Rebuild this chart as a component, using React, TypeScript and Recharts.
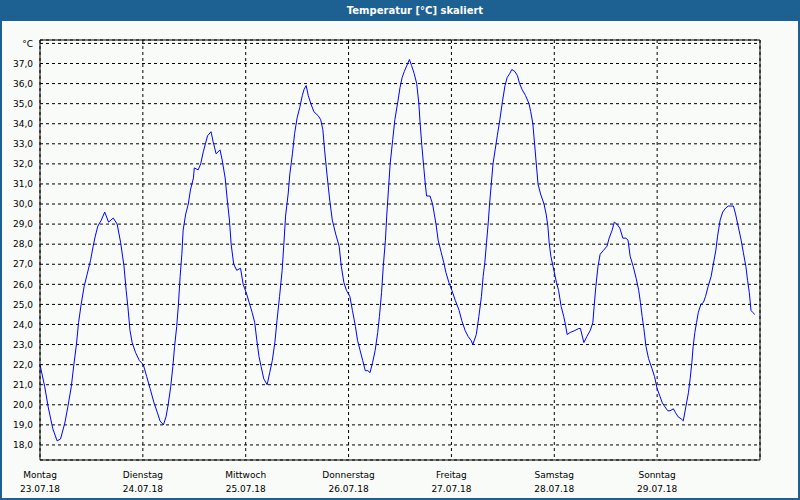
import React from 'react';
import { LineChart, Line, XAxis, YAxis, CartesianGrid, ReferenceLine } from 'recharts';

const title = 'Temperatur [°C] skaliert';
const dayNames = ['Montag', 'Dienstag', 'Mittwoch', 'Donnerstag', 'Freitag', 'Samstag', 'Sonntag'];
const dayDates = ['23.07.18', '24.07.18', '25.07.18', '26.07.18', '27.07.18', '28.07.18', '29.07.18'];
const xTicks = [0, 24, 48, 72, 96, 120, 144];
const yTicks = [18, 19, 20, 21, 22, 23, 24, 25, 26, 27, 28, 29, 30, 31, 32, 33, 34, 35, 36, 37, 38];
const unitLabel = '°C';

// hours since Monday 00:00
const hours = [
  0, 1.1, 1.9, 3.0, 4.0, 4.8, 5.8, 6.5, 7.3, 7.9, 8.5, 9.0, 9.6, 10.3, 11.0, 11.8, 12.4, 12.9, 13.5, 14.3, 15.1, 16.0, 17.1, 18.0, 18.8, 19.6, 20.1, 20.5, 21.0, 21.5, 22.3, 23.2, 24.1,
  24.9, 25.7, 26.6, 27.4, 28.0, 28.8, 29.4, 29.9, 30.5, 31.0, 31.4, 31.9, 32.3, 32.7, 33.1, 33.4, 34.0, 34.6, 35.1, 35.8, 36.0, 36.9, 37.5, 38.1, 38.6, 39.1, 39.9, 40.4, 41.1, 42.0, 42.5, 43.2, 43.7, 44.2, 44.6, 45.2, 45.9, 46.8, 47.4, 48.1,
  48.8, 49.5, 50.1, 50.6, 51.1, 51.6, 52.2, 53.0, 53.6, 54.2, 54.8, 55.3, 55.9, 56.5, 56.9, 57.3, 57.9, 58.3, 58.9, 59.4, 60.0, 60.6, 61.2, 61.6, 62.1, 62.6, 63.2, 63.9, 64.9, 65.5, 66.0, 66.4, 67.0, 67.6, 68.2, 69.0, 69.8, 70.3, 70.9, 71.5, 72.3, 72.9,
  73.6, 74.1, 74.7, 75.3, 75.9, 76.5, 77.0, 77.6, 78.2, 78.8, 79.2, 79.7, 80.1, 80.6, 80.9, 81.3, 81.7, 82.3, 82.8, 83.5, 84.0, 84.5, 85.0, 85.6, 86.2, 86.7, 87.3, 87.9, 88.4, 88.7, 89.1, 89.6, 89.9, 90.2, 91.0, 91.6, 92.0, 92.4, 92.9, 93.6, 94.2, 94.7, 95.4, 96.1, 96.9,
  97.8, 98.4, 99.2, 99.9, 100.6, 101.0, 101.8, 102.4, 103.0, 103.4, 103.8, 104.2, 104.6, 104.9, 105.3, 105.7, 106.2, 106.7, 107.3, 107.9, 108.5, 109.0, 109.6, 110.1, 110.8, 111.4, 111.9, 112.5, 113.3, 114.1, 114.5, 115.0, 115.4, 115.8, 116.2, 116.8, 117.6, 118.1, 118.5, 118.8, 119.2, 119.7, 120.2, 120.5, 121.0,
  121.6, 122.2, 122.6, 123.0, 123.7, 124.8, 125.7, 126.1, 126.9, 127.6, 128.4, 129.0, 129.3, 129.7, 130.2, 130.7, 131.5, 132.3, 132.8, 133.5, 134.0, 134.6, 135.3, 136.0, 136.7, 137.2, 137.7, 138.4, 139.1, 139.7, 140.1, 140.5, 140.9, 141.4, 142.0, 142.8, 143.4, 144.0,
  144.7, 145.2, 145.8, 146.5, 147.0, 147.8, 148.3, 148.9, 149.6, 150.1, 150.7, 151.3, 151.7, 152.1, 152.4, 152.8, 153.2, 153.6, 154.2, 154.8, 155.3, 155.9, 156.6, 157.1, 157.7, 158.1, 158.7, 159.3, 160.0, 160.6, 161.2, 161.8, 162.3, 162.9, 163.6, 164.1, 164.7, 165.1, 165.5, 165.9, 166.3, 166.8,
];

const temps = [
  22.0, 20.9, 19.9, 18.8, 18.2, 18.3, 19.1, 19.9, 20.9, 22.0, 23.0, 24.1, 25.0, 25.9, 26.5, 27.2, 27.9, 28.4, 28.9, 29.2, 29.6, 29.1, 29.3, 29.0, 28.1, 26.9, 25.7, 24.9, 23.7, 23.1, 22.6, 22.2, 22.0,
  21.4, 20.8, 20.1, 19.6, 19.2, 19.0, 19.4, 20.0, 20.9, 21.9, 22.9, 23.9, 25.0, 26.4, 27.5, 28.7, 29.5, 30.0, 30.7, 31.3, 31.8, 31.7, 32.0, 32.6, 33.0, 33.4, 33.6, 33.1, 32.5, 32.7, 32.2, 31.3, 30.2, 29.2, 28.0, 27.0, 26.7, 26.8, 26.0, 25.6,
  25.1, 24.6, 24.1, 23.2, 22.4, 21.9, 21.3, 21.0, 21.6, 22.2, 23.1, 24.2, 25.4, 26.7, 28.0, 29.4, 30.5, 31.5, 32.5, 33.5, 34.3, 34.8, 35.4, 35.7, 35.9, 35.4, 35.0, 34.6, 34.4, 34.2, 33.7, 32.7, 31.4, 30.2, 29.2, 28.5, 27.9, 26.9, 26.1, 25.7, 25.4, 24.7,
  23.9, 23.2, 22.7, 22.2, 21.7, 21.7, 21.6, 22.1, 22.7, 23.6, 24.4, 25.6, 26.9, 28.2, 29.4, 30.7, 32.0, 33.2, 34.2, 35.1, 35.8, 36.3, 36.6, 36.9, 37.2, 36.9, 36.5, 36.0, 35.0, 34.0, 32.9, 31.7, 31.0, 30.4, 30.4, 30.0, 29.5, 29.0, 28.2, 27.6, 27.1, 26.6, 26.1, 25.7, 25.2,
  24.7, 24.2, 23.7, 23.4, 23.2, 23.0, 23.5, 24.4, 25.4, 26.4, 27.1, 28.1, 29.1, 30.0, 31.0, 32.0, 32.7, 33.4, 34.2, 35.1, 35.9, 36.3, 36.5, 36.7, 36.6, 36.4, 36.0, 35.7, 35.4, 35.0, 34.6, 34.0, 33.0, 32.0, 31.0, 30.5, 30.0, 29.5, 28.9, 28.1, 27.4, 26.9, 26.4, 26.1, 25.7,
  24.9, 24.4, 24.0, 23.5, 23.6, 23.7, 23.8, 23.8, 23.1, 23.4, 23.7, 24.1, 24.9, 25.9, 26.9, 27.5, 27.7, 27.9, 28.3, 28.7, 29.1, 29.0, 28.8, 28.3, 28.3, 28.2, 27.4, 26.9, 26.3, 25.7, 25.1, 24.4, 23.8, 22.9, 22.3, 21.8, 21.4, 20.8,
  20.4, 20.1, 19.9, 19.7, 19.7, 19.8, 19.6, 19.4, 19.3, 19.2, 19.9, 20.6, 21.3, 22.1, 22.9, 23.6, 24.1, 24.6, 25.0, 25.1, 25.4, 25.9, 26.4, 27.0, 27.7, 28.4, 29.2, 29.6, 29.8, 29.9, 29.9, 29.9, 29.5, 28.9, 28.2, 27.6, 26.9, 26.2, 25.6, 24.7, 24.6, 24.5,
];

const X_MAX = 168;
const Y_MIN = 17.25;
const Y_MAX = 38.17;

const data = hours.map((h, i) => ({ h, t: temps[i] }));

const FONT = 'DejaVu Sans';

const DayTick = (props: any) => {
  const { x, y, payload } = props;
  const idx = Math.round(payload.value / 24);
  return (
    <g>
      <text x={x} y={y + 10} textAnchor="middle" fontSize={9} fontFamily={FONT} fill="#000">{dayNames[idx]}</text>
      <text x={x} y={y + 24} textAnchor="middle" fontSize={9} fontFamily={FONT} fill="#000">{dayDates[idx]}</text>
    </g>
  );
};

const fmtY = (v: number) => (v === 38 ? unitLabel : v.toFixed(1).replace('.', ','));

export default function App() {
  return (
    <div style={{ position: 'absolute', left: 0, top: 0, width: 800, height: 500, background: '#f8fbf8', boxShadow: 'inset 0 0 0 2px #1d6193', overflow: 'hidden' }}>
      <div style={{ position: 'absolute', left: 0, top: 0, width: 800, height: 21, background: '#1d6193', color: '#fff', fontFamily: FONT, fontWeight: 'bold', fontSize: 10, lineHeight: '21px', textAlign: 'center', boxSizing: 'border-box', paddingLeft: 30 }}>
        {title}
      </div>
      <div style={{ position: 'absolute', left: 0, top: 0 }}>
        <LineChart width={800} height={500} data={data} margin={{ top: 40, right: 40, bottom: 0, left: 0 }}>
          <CartesianGrid stroke="#000" strokeDasharray="3 3" strokeWidth={1} />
          <XAxis
            dataKey="h"
            type="number"
            domain={[0, X_MAX]}
            ticks={xTicks}
            interval={0}
            height={40}
            axisLine={{ stroke: '#000' }}
            tickLine={false}
            tickSize={4}
            tickMargin={4}
            tick={<DayTick />}
          />
          <YAxis
            type="number"
            domain={[Y_MIN, Y_MAX]}
            ticks={yTicks}
            interval={0}
            width={40}
            axisLine={{ stroke: '#000' }}
            tickLine={false}
            tickSize={5}
            tickMargin={2}
            tickFormatter={fmtY}
            tick={{ fontSize: 9, fontFamily: FONT, fill: '#000' }}
          />
          <ReferenceLine y={Y_MAX} stroke="#000" />
          <ReferenceLine x={X_MAX} stroke="#000" />
          <Line type="linear" dataKey="t" stroke="#0000ff" strokeWidth={1} dot={false} isAnimationActive={false} />
        </LineChart>
      </div>
    </div>
  );
}
